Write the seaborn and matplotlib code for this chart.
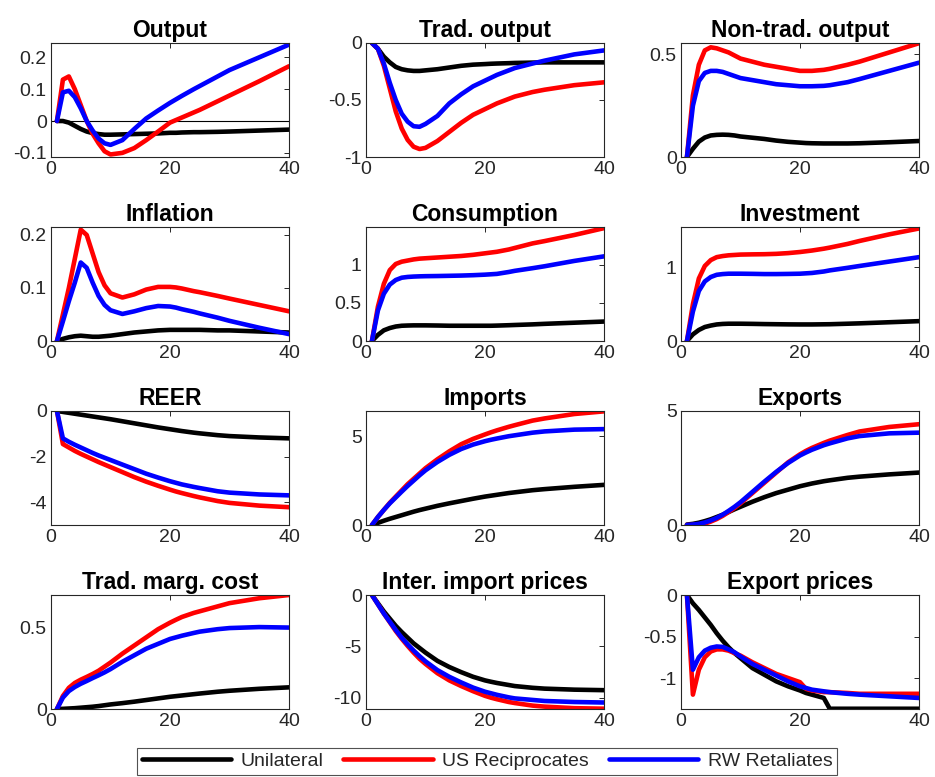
"""
Impulse responses to a tariff shock: three scenarios, 12 variables (4x3 grid).
"""

import numpy as np
import pandas as pd
import matplotlib
matplotlib.use("Agg")
import matplotlib.pyplot as plt
import seaborn as sns


PERIODS = [1, 2, 3, 4, 5, 6, 7, 8, 9, 10, 12, 14, 16, 18, 20, 21, 22, 24, 25, 28, 30, 35, 40]

SCENARIOS = ["Unilateral", "US Reciprocates", "RW Retaliates"]
COLORS    = {"Unilateral": "#000000", "US Reciprocates": "#ff0000", "RW Retaliates": "#0000ff"}

TITLES = [
    "Output", "Trad. output", "Non-trad. output",
    "Inflation", "Consumption", "Investment",
    "REER", "Imports", "Exports",
    "Trad. marg. cost", "Inter. import prices", "Export prices",
]

# --- values (Unilateral / US Reciprocates / RW Retaliates) ---
OUTPUT_UNI = [0, 0.0, -0.005, -0.015, -0.025, -0.033, -0.038, -0.041, -0.043, -0.043, -0.042, -0.041, -0.04, -0.039, -0.037, -0.037, -0.036, -0.035, -0.035, -0.034, -0.033, -0.03, -0.027]
OUTPUT_US  = [0, 0.13, 0.14, 0.10, 0.05, 0.0, -0.04, -0.07, -0.095, -0.105, -0.10, -0.085, -0.06, -0.033, -0.005, 0.003, 0.011, 0.027, 0.035, 0.062, 0.08, 0.125, 0.172]
OUTPUT_RW  = [0, 0.09, 0.095, 0.075, 0.04, 0.0, -0.03, -0.055, -0.07, -0.075, -0.06, -0.025, 0.008, 0.033, 0.057, 0.068, 0.079, 0.10, 0.11, 0.14, 0.16, 0.20, 0.24]

TRAD_UNI = [0, -0.05, -0.12, -0.17, -0.21, -0.23, -0.24, -0.245, -0.245, -0.24, -0.23, -0.215, -0.2, -0.19, -0.185, -0.182, -0.18, -0.177, -0.175, -0.172, -0.17, -0.17, -0.17]
TRAD_US  = [0, -0.05, -0.2, -0.4, -0.6, -0.75, -0.85, -0.91, -0.93, -0.92, -0.86, -0.78, -0.70, -0.63, -0.58, -0.555, -0.53, -0.49, -0.47, -0.43, -0.41, -0.37, -0.345]
TRAD_RW  = [0, -0.05, -0.18, -0.35, -0.5, -0.62, -0.69, -0.73, -0.735, -0.71, -0.64, -0.53, -0.45, -0.38, -0.33, -0.305, -0.28, -0.24, -0.22, -0.18, -0.155, -0.10, -0.065]

NONTRAD_UNI = [0, 0.04, 0.075, 0.095, 0.105, 0.108, 0.109, 0.108, 0.105, 0.1, 0.094, 0.088, 0.08, 0.074, 0.07, 0.068, 0.067, 0.066, 0.066, 0.066, 0.067, 0.072, 0.078]
NONTRAD_US  = [0, 0.3, 0.45, 0.52, 0.535, 0.53, 0.52, 0.51, 0.495, 0.48, 0.465, 0.45, 0.44, 0.43, 0.42, 0.42, 0.42, 0.425, 0.43, 0.45, 0.465, 0.51, 0.555]
NONTRAD_RW  = [0, 0.25, 0.37, 0.41, 0.42, 0.42, 0.415, 0.405, 0.395, 0.385, 0.375, 0.365, 0.355, 0.35, 0.345, 0.345, 0.345, 0.347, 0.35, 0.365, 0.38, 0.42, 0.46]

INFL_UNI = [0, 0.004, 0.007, 0.009, 0.01, 0.009, 0.008, 0.008, 0.009, 0.01, 0.013, 0.016, 0.018, 0.02, 0.021, 0.021, 0.021, 0.021, 0.021, 0.02, 0.02, 0.018, 0.016]
INFL_US  = [0, 0.05, 0.1, 0.155, 0.21, 0.2, 0.165, 0.13, 0.105, 0.09, 0.082, 0.088, 0.097, 0.102, 0.102, 0.101, 0.099, 0.094, 0.092, 0.085, 0.08, 0.068, 0.056]
INFL_RW  = [0, 0.037, 0.075, 0.11, 0.148, 0.138, 0.11, 0.085, 0.068, 0.058, 0.051, 0.056, 0.062, 0.066, 0.065, 0.063, 0.06, 0.055, 0.052, 0.044, 0.038, 0.025, 0.013]

CONS_UNI = [0, 0.08, 0.14, 0.17, 0.19, 0.2, 0.203, 0.205, 0.205, 0.205, 0.203, 0.2, 0.2, 0.2, 0.2, 0.2, 0.202, 0.207, 0.21, 0.218, 0.225, 0.24, 0.255]
CONS_US  = [0, 0.45, 0.75, 0.93, 1.01, 1.04, 1.055, 1.07, 1.08, 1.085, 1.095, 1.105, 1.115, 1.13, 1.15, 1.16, 1.17, 1.2, 1.22, 1.28, 1.31, 1.39, 1.48]
CONS_RW  = [0, 0.4, 0.62, 0.74, 0.8, 0.83, 0.84, 0.845, 0.848, 0.85, 0.852, 0.855, 0.858, 0.863, 0.87, 0.875, 0.88, 0.905, 0.92, 0.955, 0.98, 1.05, 1.11]

INV_UNI = [0, 0.09, 0.15, 0.19, 0.21, 0.225, 0.232, 0.235, 0.235, 0.235, 0.233, 0.23, 0.228, 0.226, 0.225, 0.225, 0.225, 0.227, 0.228, 0.235, 0.24, 0.255, 0.27]
INV_US  = [0, 0.5, 0.85, 1.02, 1.1, 1.14, 1.155, 1.165, 1.17, 1.175, 1.178, 1.18, 1.185, 1.195, 1.21, 1.22, 1.23, 1.255, 1.27, 1.32, 1.36, 1.45, 1.53]
INV_RW  = [0, 0.4, 0.68, 0.81, 0.87, 0.9, 0.91, 0.915, 0.915, 0.915, 0.913, 0.91, 0.91, 0.912, 0.915, 0.92, 0.925, 0.945, 0.96, 0.995, 1.02, 1.08, 1.14]

REER_UNI = [0, -0.04, -0.08, -0.12, -0.16, -0.2, -0.24, -0.28, -0.32, -0.36, -0.45, -0.54, -0.63, -0.72, -0.8, -0.84, -0.88, -0.95, -0.98, -1.06, -1.1, -1.16, -1.2]
REER_US  = [0, -1.45, -1.6, -1.75, -1.88, -2.0, -2.12, -2.24, -2.35, -2.46, -2.68, -2.9, -3.1, -3.28, -3.45, -3.53, -3.6, -3.73, -3.79, -3.95, -4.03, -4.15, -4.22]
REER_RW  = [0, -1.2, -1.35, -1.48, -1.6, -1.72, -1.84, -1.95, -2.05, -2.15, -2.35, -2.55, -2.75, -2.92, -3.08, -3.15, -3.22, -3.33, -3.38, -3.52, -3.58, -3.66, -3.7]

IMP_UNI = [0, 0.12, 0.24, 0.35, 0.45, 0.55, 0.65, 0.75, 0.84, 0.92, 1.08, 1.22, 1.35, 1.48, 1.6, 1.65, 1.7, 1.8, 1.84, 1.96, 2.02, 2.15, 2.26]
IMP_US  = [0, 0.45, 0.85, 1.25, 1.6, 1.95, 2.3, 2.6, 2.9, 3.2, 3.7, 4.15, 4.55, 4.85, 5.1, 5.22, 5.33, 5.53, 5.62, 5.88, 6.0, 6.25, 6.4]
IMP_RW  = [0, 0.45, 0.85, 1.22, 1.55, 1.88, 2.2, 2.5, 2.8, 3.08, 3.55, 3.95, 4.28, 4.53, 4.72, 4.8, 4.87, 5.0, 5.05, 5.2, 5.27, 5.37, 5.4]

EXP_UNI = [0.02, 0.05, 0.1, 0.17, 0.25, 0.35, 0.45, 0.57, 0.69, 0.8, 1.02, 1.22, 1.4, 1.55, 1.7, 1.76, 1.82, 1.92, 1.96, 2.07, 2.12, 2.22, 2.3]
EXP_US  = [0, 0.0, 0.02, 0.06, 0.15, 0.26, 0.4, 0.57, 0.75, 0.95, 1.4, 1.85, 2.3, 2.75, 3.1, 3.25, 3.38, 3.6, 3.7, 3.95, 4.1, 4.3, 4.42]
EXP_RW  = [0, 0.02, 0.05, 0.11, 0.2, 0.31, 0.45, 0.62, 0.8, 1.0, 1.45, 1.9, 2.33, 2.72, 3.05, 3.18, 3.3, 3.5, 3.58, 3.8, 3.9, 4.02, 4.05]

MC_UNI = [0, 0.001, 0.003, 0.005, 0.008, 0.011, 0.014, 0.018, 0.023, 0.028, 0.036, 0.045, 0.055, 0.065, 0.075, 0.079, 0.083, 0.091, 0.095, 0.106, 0.112, 0.124, 0.133]
MC_US  = [0, 0.08, 0.13, 0.16, 0.18, 0.197, 0.215, 0.235, 0.26, 0.285, 0.34, 0.39, 0.44, 0.49, 0.53, 0.548, 0.565, 0.59, 0.6, 0.63, 0.65, 0.68, 0.7]
MC_RW  = [0, 0.07, 0.11, 0.135, 0.155, 0.172, 0.19, 0.207, 0.225, 0.245, 0.29, 0.33, 0.37, 0.4, 0.43, 0.44, 0.45, 0.467, 0.475, 0.49, 0.497, 0.503, 0.5]

IMPP_UNI = [0, -0.8, -1.6, -2.3, -3.0, -3.6, -4.15, -4.7, -5.15, -5.6, -6.4, -7.0, -7.5, -7.95, -8.3, -8.43, -8.55, -8.75, -8.85, -9.02, -9.1, -9.2, -9.25]
IMPP_US  = [0, -0.9, -1.8, -2.65, -3.5, -4.25, -4.95, -5.6, -6.2, -6.7, -7.6, -8.3, -8.85, -9.35, -9.8, -9.98, -10.13, -10.4, -10.5, -10.75, -10.85, -11.0, -11.05]
IMPP_RW  = [0, -0.9, -1.8, -2.6, -3.4, -4.15, -4.8, -5.4, -5.95, -6.45, -7.3, -7.95, -8.5, -9.0, -9.4, -9.55, -9.7, -9.95, -10.05, -10.2, -10.3, -10.4, -10.45]

EXPP_UNI = [0, -0.1, -0.18, -0.27, -0.36, -0.46, -0.55, -0.63, -0.7, -0.76, -0.88, -0.96, -1.04, -1.1, -1.15, -1.18, -1.2, -1.24, -1.37, -1.37, -1.37, -1.37, -1.37]
EXPP_US  = [0, -1.2, -0.9, -0.75, -0.68, -0.655, -0.655, -0.67, -0.7, -0.73, -0.81, -0.88, -0.95, -1.0, -1.05, -1.13, -1.15, -1.17, -1.17, -1.18, -1.19, -1.19, -1.19]
EXPP_RW  = [0, -0.9, -0.75, -0.67, -0.635, -0.62, -0.625, -0.655, -0.69, -0.74, -0.83, -0.9, -0.97, -1.04, -1.1, -1.12, -1.14, -1.16, -1.17, -1.19, -1.2, -1.22, -1.24]

SERIES = [
    (OUTPUT_UNI, OUTPUT_US, OUTPUT_RW), (TRAD_UNI, TRAD_US, TRAD_RW), (NONTRAD_UNI, NONTRAD_US, NONTRAD_RW),
    (INFL_UNI, INFL_US, INFL_RW), (CONS_UNI, CONS_US, CONS_RW), (INV_UNI, INV_US, INV_RW),
    (REER_UNI, REER_US, REER_RW), (IMP_UNI, IMP_US, IMP_RW), (EXP_UNI, EXP_US, EXP_RW),
    (MC_UNI, MC_US, MC_RW), (IMPP_UNI, IMPP_US, IMPP_RW), (EXPP_UNI, EXPP_US, EXPP_RW),
]

YLIMS = [
    (-0.113, 0.245), (-1, 0), (0, 0.556),
    (0, 0.215), (0, 1.495), (0, 1.55),
    (-5, 0), (0, 6.42), (0, 5),
    (0, 0.70), (-11.08, 0), (-1.373, 0),
]
YTICKS = [
    [-0.1, 0, 0.1, 0.2], [-1, -0.5, 0], [0, 0.5],
    [0, 0.1, 0.2], [0, 0.5, 1], [0, 1],
    [-4, -2, 0], [0, 5], [0, 5],
    [0, 0.5], [-10, -5, 0], [-1, -0.5, 0],
]

# axes boxes in pixels: left, top, width, height
COL_LEFT = [51, 366, 681]
ROW_TOP  = [43, 227, 411, 595]
AX_W, AX_H = 238, 114
W, H = 935, 777
LW = 3.3


def fmt_tick(v: float) -> str:
    return f"{v:g}"


sns.set_theme(style="white")
plt.rcParams["font.family"] = ["Liberation Sans", "DejaVu Sans"]
plt.rcParams["axes.edgecolor"] = "#262626"
plt.rcParams["axes.linewidth"] = 0.8

fig = plt.figure(figsize=(W / 100, H / 100), dpi=100)

for k, (title, series) in enumerate(zip(TITLES, SERIES)):
    r, c = divmod(k, 3)
    ax = fig.add_axes([COL_LEFT[c] / W, 1 - (ROW_TOP[r] + AX_H) / H, AX_W / W, AX_H / H])

    df = pd.DataFrame({
        "period": PERIODS * 3,
        "value": [v for s in series for v in s],
        "scenario": np.repeat(SCENARIOS, len(PERIODS)),
    })
    if k == 0:
        ax.axhline(0, color="black", lw=0.8, zorder=1)
    sns.lineplot(data=df, x="period", y="value", hue="scenario", hue_order=SCENARIOS,
                 palette=COLORS, lw=LW, legend=False, ax=ax, zorder=2,
                 solid_joinstyle="round", solid_capstyle="round")

    ax.set_xlim(0, 40)
    ax.set_ylim(*YLIMS[k])
    ax.set_xticks([0, 20, 40])
    ax.set_yticks(YTICKS[k])
    ax.set_yticklabels([fmt_tick(v) for v in YTICKS[k]])
    ax.set_xlabel("")
    ax.set_ylabel("")
    ax.set_title(title, fontsize=16.5, fontweight="bold", color="black", pad=4)
    ax.tick_params(direction="in", length=3.5, width=0.7, top=True, right=True,
                   labelsize=14, labelcolor="#262626", color="#262626", pad=3)
    for sp in ax.spines.values():
        sp.set_visible(True)

handles = [plt.Line2D([], [], color=COLORS[s], lw=LW) for s in SCENARIOS]
leg = fig.legend(handles, SCENARIOS, loc="lower center", bbox_to_anchor=(0.521, 0.0),
                 ncol=3, fontsize=14, frameon=True, fancybox=False, handlelength=4.6,
                 columnspacing=1.0, handletextpad=0.5, borderpad=0.25, borderaxespad=0.1)
leg.get_frame().set_edgecolor("#262626")
leg.get_frame().set_linewidth(0.8)

fig.savefig("out.png", dpi=100)
